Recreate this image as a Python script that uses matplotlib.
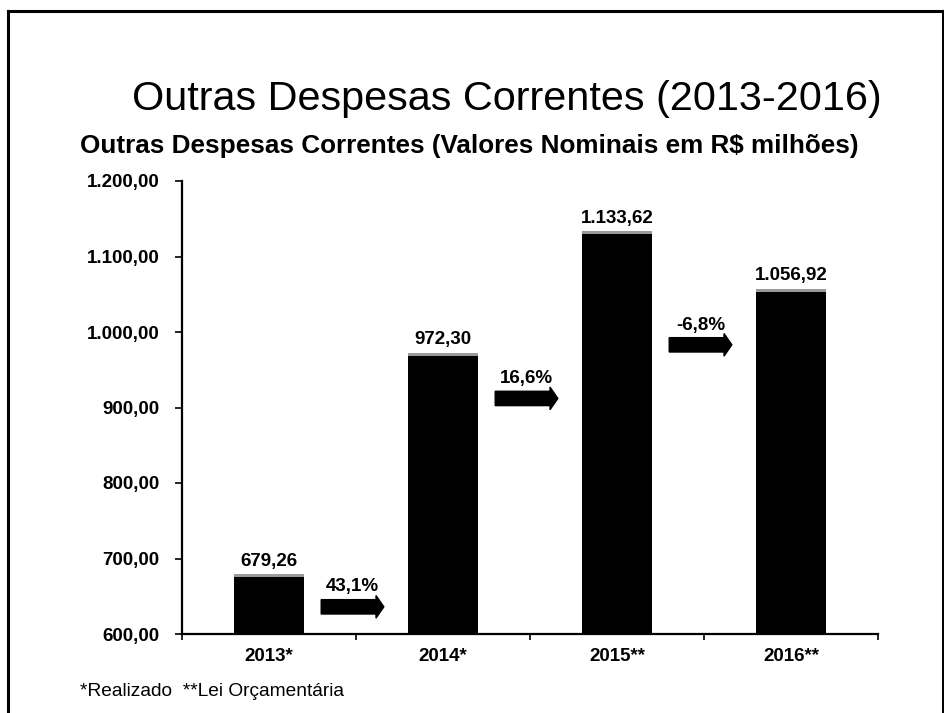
import matplotlib
matplotlib.use("Agg")
import matplotlib.pyplot as plt
from matplotlib.patches import FancyArrow, Rectangle

# Data
years = ["2013*", "2014*", "2015**", "2016**"]
values = [679.26, 972.30, 1133.62, 1056.92]
value_labels = ["679,26", "972,30", "1.133,62", "1.056,92"]
growth_labels = ["43,1%", "16,6%", "-6,8%"]
y_ticks = [600, 700, 800, 900, 1000, 1100, 1200]
y_tick_labels = ["600,00", "700,00", "800,00", "900,00", "1.000,00", "1.100,00", "1.200,00"]


def main():
    plt.rcParams["font.family"] = ["Liberation Sans", "DejaVu Sans"]
    fig = plt.figure(figsize=(9.45, 7.13), dpi=100)

    # slide border (left, top, right)
    fig.add_artist(plt.Line2D([8 / 945, 8 / 945], [0, 1 - 11 / 713], color="black", lw=2.2,
                              transform=fig.transFigure))
    fig.add_artist(plt.Line2D([8 / 945, 943 / 945], [1 - 11 / 713, 1 - 11 / 713], color="black",
                              lw=2.2, transform=fig.transFigure))
    fig.add_artist(plt.Line2D([943 / 945, 943 / 945], [0, 1 - 11 / 713], color="black", lw=2.2,
                              transform=fig.transFigure))

    fig.text(507 / 945, 1 - 99 / 713, "Outras Despesas Correntes (2013-2016)", fontsize=29.8,
             ha="center", va="center")
    fig.text(80 / 945, 1 - 146 / 713, "Outras Despesas Correntes (Valores Nominais em R$ milhões)",
             fontsize=18.8, fontweight="bold", ha="left", va="center")
    fig.text(80 / 945, 1 - 692 / 713, "*Realizado  **Lei Orçamentária", fontsize=13.8,
             ha="left", va="center")

    ax = fig.add_axes([182 / 945, 1 - 634 / 713, (878 - 182) / 945, (634 - 181) / 713])
    x = list(range(len(years)))
    ax.bar(x, [v - 600 for v in values], bottom=600, width=0.4, color="black")
    for i, v in enumerate(values):
        ax.add_patch(Rectangle((i - 0.2, v - 4), 0.4, 4, color="#9a9a9a", lw=0))
        ax.text(i, v + 6, value_labels[i], ha="center", va="bottom", fontsize=13.5,
                fontweight="bold")

    # growth arrows between bars
    arrow_y = [636, 912, 983]
    for i, lab in enumerate(growth_labels):
        ax.add_patch(FancyArrow(i + 0.3, arrow_y[i], 0.36, 0, width=19, head_width=30,
                                head_length=0.045, length_includes_head=True, color="black"))
        ax.text(i + 0.48, arrow_y[i] + 15, lab, ha="center", va="bottom", fontsize=13.5,
                fontweight="bold")

    ax.set_xlim(-0.5, 3.5)
    ax.set_ylim(600, 1200)
    ax.set_xticks(x)
    ax.set_xticklabels(years, fontsize=13.5, fontweight="bold")
    ax.set_xticks([-0.5, 0.5, 1.5, 2.5, 3.5], minor=True)
    ax.tick_params(axis="x", which="major", length=0, pad=10)
    ax.tick_params(axis="x", which="minor", length=4, width=1.2, direction="out")
    ax.set_yticks(y_ticks)
    ax.set_yticklabels(y_tick_labels, fontsize=13.5, fontweight="bold")
    ax.tick_params(axis="y", length=5, width=1.2, direction="out", pad=11)
    for s in ["top", "right"]:
        ax.spines[s].set_visible(False)
    ax.spines["left"].set_linewidth(1.6)
    ax.spines["bottom"].set_linewidth(1.6)

    fig.savefig("out.png", dpi=100)


if __name__ == "__main__":
    main()
